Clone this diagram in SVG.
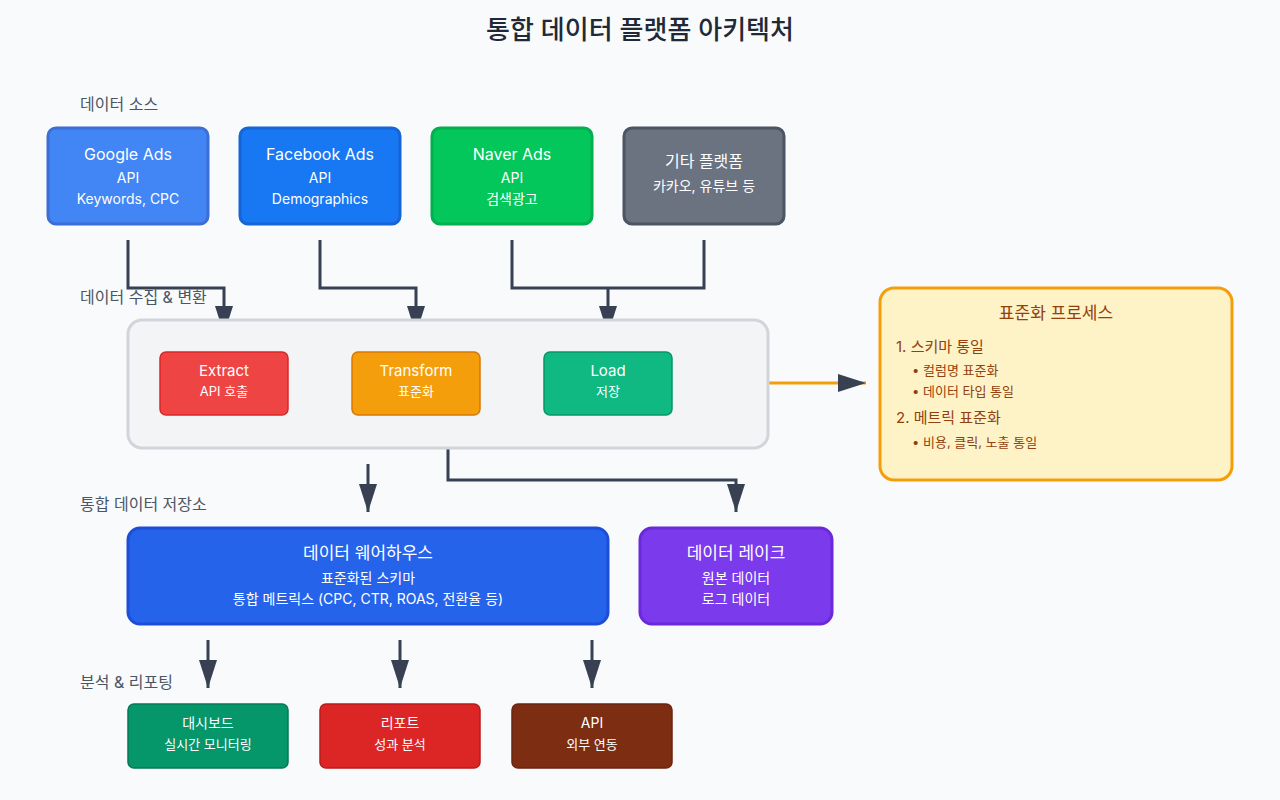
<svg xmlns="http://www.w3.org/2000/svg" width="1280" height="800" viewBox="0 0 1280 800">
<style>
text{font-family:Inter,"Noto Sans CJK KR",sans-serif;text-anchor:middle;fill:#fff}
.sec{fill:#4b5563;font-size:16px;text-anchor:start}
.t{font-size:16px}
.s{font-size:14px}
.ss{font-size:13px}
.c{fill:none;stroke:#374151;stroke-width:3}
.p{fill:#92400e;text-anchor:start}
</style>
<defs>
<marker id="ah" markerWidth="10" markerHeight="10" refX="9" refY="5" orient="auto" markerUnits="userSpaceOnUse" viewBox="0 0 10 10"><path d="M0,0L10,5L0,10z" fill="#374151"/></marker>
<marker id="ahb" markerWidth="30" markerHeight="20" refX="28" refY="9" orient="auto" markerUnits="userSpaceOnUse"><path d="M0,0L28,9L0,18z" fill="#374151"/></marker>
</defs>
<rect width="1280" height="800" fill="#f8fafc"/>
<text x="640" y="39" style="font-size:26px;fill:#1f2937;font-weight:500">통합 데이터 플랫폼 아키텍처</text>
<text class="sec" x="80" y="110">데이터 소스</text>
<text class="sec" x="80" y="510">통합 데이터 저장소</text>
<text class="sec" x="80" y="688">분석 &amp; 리포팅</text>
<g id="connectors">
<path class="c" d="M128,240V288H224V334" marker-end="url(#ahb)"/>
<path class="c" d="M320,240V288H416V334" marker-end="url(#ahb)"/>
<path class="c" d="M512,240V288H704V240"/>
<path class="c" d="M608,288V334" marker-end="url(#ahb)"/>
<path d="M768,383H866" fill="none" stroke="#f59e0b" stroke-width="3" marker-end="url(#ahb)"/>
<path class="c" d="M368,464V512" marker-end="url(#ahb)"/>
<path class="c" d="M448,448V480H736V512" marker-end="url(#ahb)"/>
<path class="c" d="M208,640V688" marker-end="url(#ahb)"/>
<path class="c" d="M400,640V688" marker-end="url(#ahb)"/>
<path class="c" d="M592,640V688" marker-end="url(#ahb)"/>
</g>
<text class="sec" x="80" y="303">데이터 수집 &amp; 변환</text>
<g id="google"><rect x="48" y="128" width="160" height="96" rx="8" fill="#4285f4" stroke="#3b6fd6" stroke-width="3"/><text class="t" x="128" y="160">Google Ads</text><text class="s" x="128" y="183">API</text><text class="s" x="128" y="204">Keywords, CPC</text></g>
<g id="facebook"><rect x="240" y="128" width="160" height="96" rx="8" fill="#1877f2" stroke="#1565d8" stroke-width="3"/><text class="t" x="320" y="160">Facebook Ads</text><text class="s" x="320" y="183">API</text><text class="s" x="320" y="204">Demographics</text></g>
<g id="naver"><rect x="432" y="128" width="160" height="96" rx="8" fill="#03c75a" stroke="#02b04f" stroke-width="3"/><text class="t" x="512" y="160">Naver Ads</text><text class="s" x="512" y="183">API</text><text class="s" x="512" y="204">검색광고</text></g>
<g id="other"><rect x="624" y="128" width="160" height="96" rx="8" fill="#6b7280" stroke="#4b5563" stroke-width="3"/><text class="t" x="704" y="167">기타 플랫폼</text><text class="s" x="704" y="191">카카오, 유튜브 등</text></g>
<g id="etl"><rect x="128" y="320" width="640" height="128" rx="14" fill="#f3f4f6" stroke="#d1d5db" stroke-width="3"/></g>
<g id="extract"><rect x="160" y="352" width="128" height="63" rx="6" fill="#ef4444" stroke="#dc2626" stroke-width="1.5"/><text class="s" style="font-size:15px" x="224" y="376">Extract</text><text class="ss" x="224" y="396">API 호출</text></g>
<g id="transform"><rect x="352" y="352" width="128" height="63" rx="6" fill="#f59e0b" stroke="#d97706" stroke-width="1.5"/><text class="s" style="font-size:15px" x="416" y="376">Transform</text><text class="ss" x="416" y="396">표준화</text></g>
<g id="load"><rect x="544" y="352" width="128" height="63" rx="6" fill="#10b981" stroke="#059669" stroke-width="1.5"/><text class="s" style="font-size:15px" x="608" y="376">Load</text><text class="ss" x="608" y="396">저장</text></g>
<g id="process"><rect x="880" y="288" width="352" height="192" rx="14" fill="#fef3c7" stroke="#f59e0b" stroke-width="3"/>
<text x="1056" y="319" style="font-size:17px;fill:#92400e">표준화 프로세스</text>
<text class="p" x="896" y="352" style="font-size:15px">1. 스키마 통일</text>
<text class="p" x="912" y="375" style="font-size:13px">• 컬럼명 표준화</text>
<text class="p" x="912" y="396" style="font-size:13px">• 데이터 타입 통일</text>
<text class="p" x="896" y="423" style="font-size:15px">2. 메트릭 표준화</text>
<text class="p" x="912" y="447" style="font-size:13px">• 비용, 클릭, 노출 통일</text></g>
<g id="warehouse"><rect x="128" y="528" width="480" height="96" rx="12" fill="#2563eb" stroke="#1d4ed8" stroke-width="3"/><text x="368" y="559" style="font-size:17px">데이터 웨어하우스</text><text class="s" x="368" y="583">표준화된 스키마</text><text class="s" x="368" y="604">통합 메트릭스 (CPC, CTR, ROAS, 전환율 등)</text></g>
<g id="lake"><rect x="640" y="528" width="192" height="96" rx="12" fill="#7c3aed" stroke="#6d28d9" stroke-width="3"/><text x="736" y="559" style="font-size:17px">데이터 레이크</text><text class="s" x="736" y="583">원본 데이터</text><text class="s" x="736" y="604">로그 데이터</text></g>
<g id="dashboard"><rect x="128" y="704" width="160" height="64" rx="6" fill="#059669" stroke="#047857" stroke-width="1.5"/><text class="s" x="208" y="728">대시보드</text><text class="ss" x="208" y="749">실시간 모니터링</text></g>
<g id="report"><rect x="320" y="704" width="160" height="64" rx="6" fill="#dc2626" stroke="#b91c1c" stroke-width="1.5"/><text class="s" x="400" y="728">리포트</text><text class="ss" x="400" y="749">성과 분석</text></g>
<g id="api"><rect x="512" y="704" width="160" height="64" rx="6" fill="#7c2d12" stroke="#6b2410" stroke-width="1.5"/><text class="s" x="592" y="728">API</text><text class="ss" x="592" y="749">외부 연동</text></g>
</svg>
